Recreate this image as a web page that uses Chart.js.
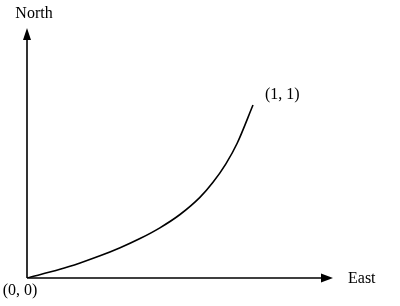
<!DOCTYPE html>
<html>
<head>
<meta charset="utf-8">
<script src="https://cdn.jsdelivr.net/npm/chart.js@4"></script>
<style>
  html, body { margin: 0; padding: 0; background: #fff; }
  canvas { display: block; }
</style>
</head>
<body>
<canvas id="path-chart" width="400" height="306"></canvas>
<script>
// Values (East, North in plot units).
var eastValues = [0, 0.146, 0.235, 0.323, 0.412, 0.5, 0.588, 0.677, 0.765, 0.823, 0.88, 0.93, 1];
var northValues = [0, 0.05, 0.087, 0.128, 0.175, 0.228, 0.29, 0.367, 0.466, 0.553, 0.66, 0.779, 1];
var axisLabels = ['East', 'North'];
var pointLabels = ['(0, 0)', '(1, 1)'];

var points = eastValues.map(function (x, i) {
	return { x: x, y: northValues[i] };
});

// Axis lines with arrows, plus the text labels.
var axesPlugin = {
	id: 'axesArrows',
	afterDatasetsDraw: function (chart) {
		var ctx = chart.ctx;
		var a = chart.chartArea;
		var xs = chart.scales.x;
		var ys = chart.scales.y;
		var ox = xs.getPixelForValue(0);
		var oy = ys.getPixelForValue(0);

		ctx.save();
		ctx.strokeStyle = '#000';
		ctx.fillStyle = '#000';
		ctx.lineWidth = 1.6;

		ctx.beginPath();
		ctx.moveTo(ox, oy);
		ctx.lineTo(a.right - 4, oy);
		ctx.moveTo(ox, oy);
		ctx.lineTo(ox, a.top + 4);
		ctx.stroke();

		// arrow heads
		ctx.beginPath();
		ctx.moveTo(a.right, oy);
		ctx.lineTo(a.right - 12, oy - 4.5);
		ctx.lineTo(a.right - 12, oy + 4.5);
		ctx.closePath();
		ctx.fill();

		ctx.beginPath();
		ctx.moveTo(ox, a.top);
		ctx.lineTo(ox - 4, a.top + 12);
		ctx.lineTo(ox + 4, a.top + 12);
		ctx.closePath();
		ctx.fill();

		ctx.font = '16px "Liberation Serif", "Times New Roman", serif';
		ctx.textBaseline = 'alphabetic';

		ctx.textAlign = 'left';
		ctx.fillText(axisLabels[0], a.right + 15, oy + 5);

		ctx.textAlign = 'center';
		ctx.fillText(axisLabels[1], ox + 7, a.top - 10);
		ctx.fillText(pointLabels[0], ox - 7, oy + 17);

		var last = points[points.length - 1];
		ctx.textAlign = 'left';
		ctx.fillText(pointLabels[1], xs.getPixelForValue(last.x) + 12, ys.getPixelForValue(last.y) - 6);
		ctx.restore();
	}
};

new Chart(document.getElementById('path-chart').getContext('2d'), {
	type: 'scatter',
	data: {
		datasets: [{
			data: points,
			showLine: true,
			borderColor: '#000',
			borderWidth: 1.6,
			pointRadius: 0,
			cubicInterpolationMode: 'monotone',
			fill: false
		}]
	},
	options: {
		responsive: false,
		animation: false,
		events: [],
		layout: {
			padding: { left: 27, right: 67, top: 28, bottom: 28 }
		},
		plugins: {
			legend: { display: false },
			tooltip: { enabled: false }
		},
		scales: {
			x: { type: 'linear', display: false, min: 0, max: 1.354 },
			y: { type: 'linear', display: false, min: 0, max: 1.445 }
		}
	},
	plugins: [axesPlugin]
});
</script>
</body>
</html>
